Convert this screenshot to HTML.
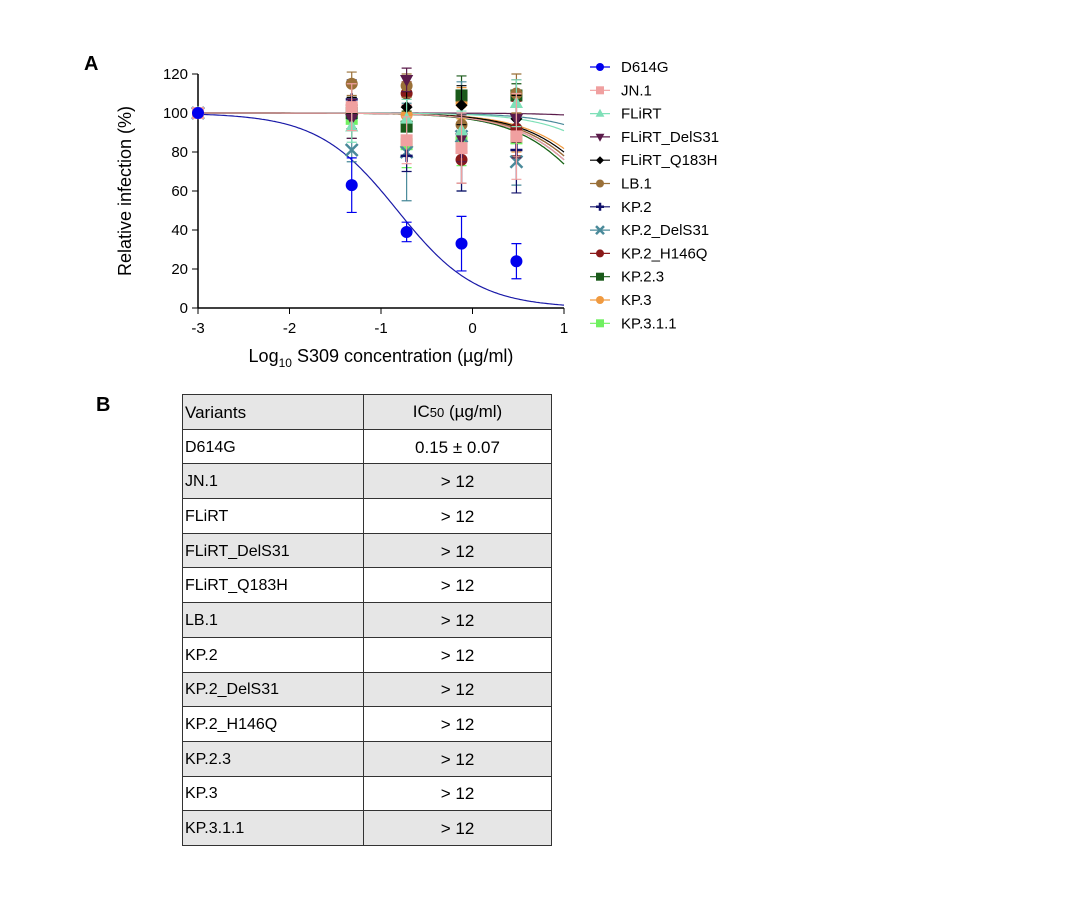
<!DOCTYPE html>
<html><head><meta charset="utf-8"><style>
body{margin:0;background:#fff;width:1080px;height:903px;overflow:hidden;font-family:"Liberation Sans",Arial,sans-serif}
svg{position:absolute;left:0;top:0}
table{position:absolute;left:182px;top:394px;border-collapse:collapse;font-size:17px}
td{border:1px solid #333;height:34.7px;padding:2px 2px 0;box-sizing:border-box;vertical-align:middle;line-height:20px}
td.v{width:181px;font-size:16px}td.c{width:188px;text-align:center}
tr.g td{background:#e6e6e6}
</style></head><body>
<svg width="1080" height="903">
<text x="84" y="70" font-size="20" font-weight="bold">A</text>
<text x="96" y="411" font-size="20" font-weight="bold">B</text>
<g id="axes"></g><g id="curves"></g><g id="marks"></g><g id="legend"></g>
</svg>
<table>
<tr class="g"><td class="v" style="font-size:17px">Variants</td><td class="c">IC<span style="font-size:13px">50</span> (µg/ml)</td></tr>
<tr><td class="v">D614G</td><td class="c">0.15 ± 0.07</td></tr>
<tr class="g"><td class="v">JN.1</td><td class="c">&gt; 12</td></tr>
<tr><td class="v">FLiRT</td><td class="c">&gt; 12</td></tr>
<tr class="g"><td class="v">FLiRT_DelS31</td><td class="c">&gt; 12</td></tr>
<tr><td class="v">FLiRT_Q183H</td><td class="c">&gt; 12</td></tr>
<tr class="g"><td class="v">LB.1</td><td class="c">&gt; 12</td></tr>
<tr><td class="v">KP.2</td><td class="c">&gt; 12</td></tr>
<tr class="g"><td class="v">KP.2_DelS31</td><td class="c">&gt; 12</td></tr>
<tr><td class="v">KP.2_H146Q</td><td class="c">&gt; 12</td></tr>
<tr class="g"><td class="v">KP.2.3</td><td class="c">&gt; 12</td></tr>
<tr><td class="v">KP.3</td><td class="c">&gt; 12</td></tr>
<tr class="g"><td class="v">KP.3.1.1</td><td class="c">&gt; 12</td></tr>
</table>
<script>
const variants=["D614G","JN.1","FLiRT","FLiRT_DelS31","FLiRT_Q183H","LB.1","KP.2","KP.2_DelS31","KP.2_H146Q","KP.2.3","KP.3","KP.3.1.1"];
const colors=["#0000ee","#f0a0a0","#7fe0b8","#5a1a4a","#000000","#9a7038","#10106a","#4a8a9a","#8a1a1a","#1a5a1a","#f09a40","#70f060"];
const curveColors=["#1a1aa8","#f0a0a0","#7fe0b8","#5a1a4a","#000000","#9a7038","#10106a","#4a8a9a","#8a1a1a","#1a5a1a","#f09a40","#70f060"];
const shapes=["circle","square","tri","dtri","diamond","circle","plus","x","circle","square","circle","square"];
const xDoses=[-3,-1.32,-0.72,-0.12,0.48];
const values=[
[100,63,39,33,24],[100,103,86,82,88],[100,93,97,91,105],[100,97,117,87,97],[100,100,103,104,97],[100,115,114,94,110],
[100,107,78,80,81],[100,81,80,88,75],[100,104,110,76,92],[100,100,93,109,109],[100,100,99,105,90],[100,97,84,85,87]];
const errors=[
[0,14,5,14,9],[0,12,12,18,22],[0,8,10,10,12],[0,10,6,12,20],[0,8,8,10,12],[0,6,6,12,10],
[0,10,8,20,22],[0,6,25,28,12],[0,12,6,12,14],[0,8,8,10,6],[0,8,8,8,10],[0,10,12,12,10]];
const logIC50=[-0.82,1.5,2.0,3.0,1.6,1.55,1.5,2.2,1.55,1.45,1.65,1.45];
const xTicks=[-3,-2,-1,0,1];
const yTicks=[0,20,40,60,80,100,120];
const NS="http://www.w3.org/2000/svg";
const X=v=>198+(v+3)*91.5, Y=v=>308-v*1.95;
function el(t,a,p){const e=document.createElementNS(NS,t);for(const k in a)e.setAttribute(k,a[k]);p.appendChild(e);return e;}
const ax=document.getElementById('axes');
let a=el('line',{x1:198,y1:308,x2:564,y2:308,stroke:'#000','stroke-width':1.5},ax);

a=el('line',{x1:198,y1:74,x2:198,y2:308,stroke:'#000','stroke-width':1.5},ax);

xTicks.forEach(t=>{el('line',{x1:X(t),y1:308,x2:X(t),y2:314,stroke:'#000'},ax);
 const tx=el('text',{x:X(t),y:333,'font-size':15,'text-anchor':'middle'},ax);tx.textContent=t;
 });
yTicks.forEach(t=>{el('line',{x1:192,y1:Y(t),x2:198,y2:Y(t),stroke:'#000'},ax);
 const tx=el('text',{x:188,y:Y(t)+5,'font-size':15,'text-anchor':'end'},ax);tx.textContent=t;
 });
let yt=el('text',{x:0,y:0,'font-size':18,'text-anchor':'middle',transform:'translate(131,191) rotate(-90)'},ax);
yt.textContent='Relative infection (%)';
let xt=el('text',{x:381,y:362,'font-size':18,'text-anchor':'middle'},ax);
xt.innerHTML='Log<tspan font-size="12" dy="5">10</tspan><tspan dy="-5"> S309 concentration (µg/ml)</tspan>';

function marker(s,cx,cy,c,r,p){
 let m;
 if(s=='circle')m=el('circle',{cx,cy,r,fill:c},p);
 else if(s=='square')m=el('rect',{x:cx-r,y:cy-r,width:2*r,height:2*r,fill:c},p);
 else if(s=='tri')m=el('polygon',{points:`${cx},${cy-r*1.2} ${cx-r*1.1},${cy+r*0.8} ${cx+r*1.1},${cy+r*0.8}`,fill:c},p);
 else if(s=='dtri')m=el('polygon',{points:`${cx},${cy+r*1.2} ${cx-r*1.1},${cy-r*0.8} ${cx+r*1.1},${cy-r*0.8}`,fill:c},p);
 else if(s=='diamond')m=el('polygon',{points:`${cx},${cy-r} ${cx+r},${cy} ${cx},${cy+r} ${cx-r},${cy}`,fill:c},p);
 else if(s=='plus')m=el('path',{d:`M${cx-r} ${cy}H${cx+r}M${cx} ${cy-r}V${cy+r}`,stroke:c,'stroke-width':2.5},p);
 else m=el('path',{d:`M${cx-r} ${cy-r}L${cx+r} ${cy+r}M${cx-r} ${cy+r}L${cx+r} ${cy-r}`,stroke:c,'stroke-width':2.5},p);
 return m;}
const cg=document.getElementById('curves'),mg=document.getElementById('marks'),lg=document.getElementById('legend');
for(let i=variants.length-1;i>=0;i--){
 let d='';for(let k=0;k<=200;k++){const x=-3+4*k/200;const y=100/(1+Math.pow(10,x-logIC50[i]));d+=(k?'L':'M')+X(x).toFixed(1)+' '+Y(y).toFixed(1);}
 const c=el('path',{d,fill:'none',stroke:curveColors[i],'stroke-width':1.2},cg);
 
 xDoses.forEach((x,j)=>{const v=values[i][j],e=errors[i][j];
  if(e>0){const eb=el('path',{d:`M${X(x)} ${Y(v-e)}V${Y(v+e)}M${X(x)-5} ${Y(v-e)}h10M${X(x)-5} ${Y(v+e)}h10`,stroke:colors[i],'stroke-width':1.2},mg);
   }
  const m=marker(shapes[i],X(x),Y(v),colors[i],6,mg);
  });
}
variants.forEach((n,i)=>{const y=67+i*23.3;
 const g=el('g',{},lg);
 
 el('line',{x1:590,y1:y,x2:610,y2:y,stroke:colors[i],'stroke-width':1.2},g);
 marker(shapes[i],600,y,colors[i],4,g);
 const t=el('text',{x:621,y:y+5,'font-size':15},g);t.textContent=(n=='LB.1'?' ':'')+n;});
</script>
</body></html>
